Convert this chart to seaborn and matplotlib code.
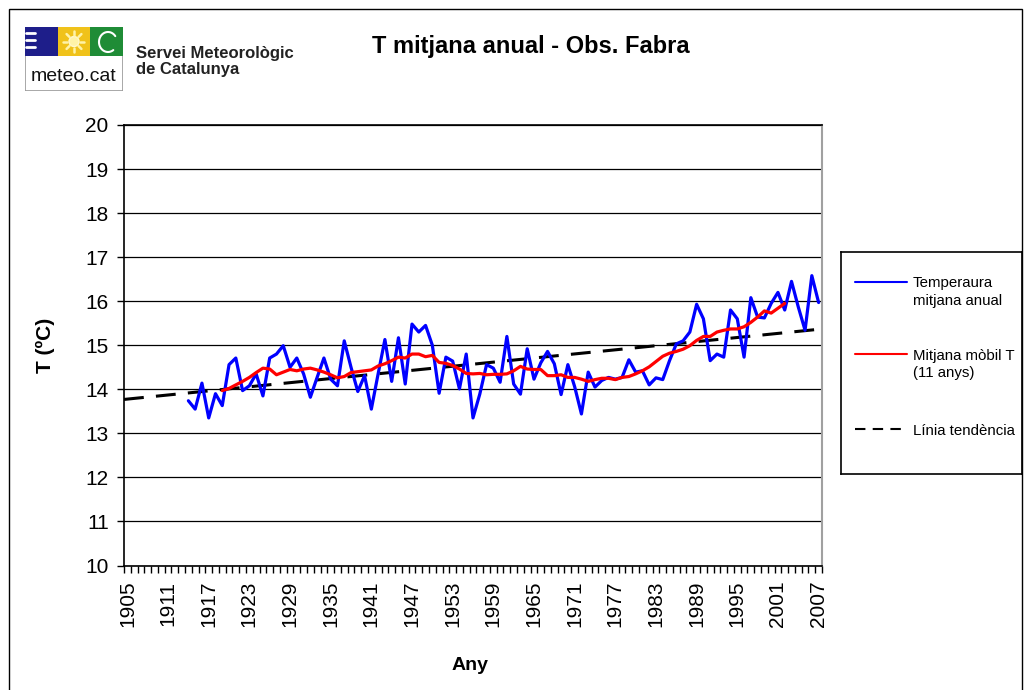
import numpy as np
import matplotlib
matplotlib.use("Agg")
import matplotlib.pyplot as plt
from matplotlib.patches import Rectangle, Circle
from matplotlib.lines import Line2D
import seaborn as sns

# dades (llegides del gràfic original)
years_obs = np.arange(1914, 2008)
temp_anual = [
    13.74, 13.55, 14.14, 13.35, 13.90, 13.63, 14.56, 14.71, 13.97, 14.08,
    14.35, 13.85, 14.71, 14.80, 14.99, 14.50, 14.71, 14.35, 13.82, 14.27,
    14.71, 14.23, 14.08, 15.10, 14.50, 13.95, 14.31, 13.55, 14.35, 15.13,
    14.18, 15.17, 14.12, 15.48, 15.30, 15.45, 15.00, 13.91, 14.73, 14.64,
    14.01, 14.80, 13.35, 13.89, 14.56, 14.48, 14.16, 15.20, 14.12, 13.89,
    14.92, 14.23, 14.60, 14.86, 14.58, 13.88, 14.56, 14.06, 13.44, 14.39,
    14.05, 14.20, 14.27, 14.23, 14.27, 14.67, 14.39, 14.42, 14.10, 14.26,
    14.22, 14.65, 15.03, 15.10, 15.30, 15.93, 15.60, 14.65, 14.80, 14.73,
    15.80, 15.60, 14.73, 16.08, 15.64, 15.62, 15.95, 16.20, 15.80, 16.45,
    15.87, 15.34, 16.58, 15.97,
]

years_mm = np.arange(1919, 2003)
mitjana_mobil = [
    13.97, 14.02, 14.10, 14.18, 14.27, 14.38, 14.48, 14.46, 14.33, 14.39,
    14.45, 14.42, 14.46, 14.48, 14.44, 14.39, 14.33, 14.26, 14.29, 14.38,
    14.40, 14.42, 14.44, 14.53, 14.58, 14.65, 14.73, 14.71, 14.80, 14.80,
    14.74, 14.77, 14.61, 14.59, 14.54, 14.46, 14.36, 14.35, 14.36, 14.33,
    14.34, 14.34, 14.35, 14.42, 14.52, 14.46, 14.45, 14.45, 14.31, 14.31,
    14.33, 14.27, 14.27, 14.23, 14.18, 14.22, 14.25, 14.25, 14.22, 14.27,
    14.29, 14.35, 14.42, 14.51, 14.63, 14.75, 14.82, 14.86, 14.91, 14.99,
    15.11, 15.20, 15.20, 15.30, 15.34, 15.37, 15.37, 15.42, 15.52, 15.64,
    15.78, 15.73, 15.84, 15.95,
]

years_trend = [1904.5, 2007.5]
tendencia = [13.77, 15.37]

xtick_years = np.arange(1905, 2008, 6)
yticks = np.arange(10, 21)

labels = ["Temperaura\nmitjana anual", "Mitjana mòbil T\n(11 anys)", "Línia tendència"]

W, H = 1025, 690


def rect(x0, y0, x1, y1):
    # pixels (origen a dalt a l'esquerra) -> fraccio de figura
    return [x0 / W, 1 - y1 / H, (x1 - x0) / W, (y1 - y0) / H]


sns.set_theme(style="white")
plt.rcParams['font.family'] = ['Liberation Sans', 'DejaVu Sans']
plt.rcParams['text.color'] = 'black'
plt.rcParams['xtick.color'] = 'black'
plt.rcParams['ytick.color'] = 'black'
plt.rcParams['axes.labelcolor'] = 'black'

fig = plt.figure(figsize=(W / 100, H / 100), dpi=100)
fig.patch.set_facecolor("white")

# marc exterior
fig.patches.append(Rectangle((8.5 / W, 1 - 700 / H), (1022 - 8.5) / W, (700 - 9) / H,
                             transform=fig.transFigure, fill=False, edgecolor="black", lw=1.0))

ax = fig.add_axes(rect(124, 125, 822, 565.5))
ax.set_facecolor("white")

sns.lineplot(x=years_trend, y=tendencia, ax=ax, color="black", lw=2.2)
ax.lines[-1].set_dashes((6.5, 4))
sns.lineplot(x=years_obs, y=temp_anual, ax=ax, color="#0000ff", lw=2.3)
sns.lineplot(x=years_mm, y=mitjana_mobil, ax=ax, color="#ff0000", lw=2.3)

ax.set_xlim(1904.5, 2007.5)
ax.set_ylim(10, 20)
ax.set_yticks(yticks)
ax.set_yticklabels([str(v) for v in yticks], fontsize=15)
ax.set_xticks(xtick_years)
ax.set_xticklabels([str(v) for v in xtick_years], rotation=90, fontsize=15)
ax.set_xticks(np.arange(1904.5, 2008, 1), minor=True)
ax.tick_params(axis="x", which="major", length=0, pad=11)
ax.tick_params(axis="x", which="minor", length=5, width=1, color="black", direction="out", bottom=True)
ax.tick_params(axis="y", length=5, width=1, color="black", direction="out", left=True, pad=6)
ax.yaxis.grid(True, color="black", lw=0.9)
ax.set_axisbelow(True)

for s in ["left", "bottom", "top"]:
    ax.spines[s].set_color("black")
    ax.spines[s].set_linewidth(1.2)
ax.spines["right"].set_color("#a0a0a0")
ax.spines["right"].set_linewidth(1.5)

ax.set_xlabel("")
ax.set_ylabel("")
fig.text(45 / W, 1 - 345 / H, "T (ºC)", rotation=90, fontsize=15, fontweight="bold",
         ha="center", va="center")
fig.text(470 / W, 1 - 666 / H, "Any", fontsize=14, fontweight="bold", ha="center", va="center")
fig.text(531 / W, 1 - 47 / H, "T mitjana anual - Obs. Fabra", fontsize=17, fontweight="bold",
         ha="center", va="center")

# llegenda dibuixada a mà
lax = fig.add_axes(rect(841, 252, 1022, 474))
lax.set_xlim(841, 1022)
lax.set_ylim(474, 252)
lax.set_xticks([])
lax.set_yticks([])
for s in lax.spines.values():
    s.set_color("black")
    s.set_linewidth(1.2)
leg_colors = ["#0000ff", "#ff0000", "black"]
leg_y = [281.7, 354, 429]
for c, y, lab in zip(leg_colors, leg_y, labels):
    ln = Line2D([855, 907], [y, y], color=c, lw=1.5)
    if c == "black":
        ln.set_dashes((5, 3.5))
    lax.add_line(ln)
    for k, part in enumerate(lab.split("\n")):
        lax.text(913, y + 5.5 + k * 17.5, part, fontsize=10.8, ha="left", va="baseline")

# logotip meteo.cat
gax = fig.add_axes(rect(25, 27, 123, 91))
gax.set_xlim(25, 123)
gax.set_ylim(91, 27)
gax.axis("off")
gax.add_patch(Rectangle((25, 27), 98, 64, facecolor="white", edgecolor="#9a9a9a", lw=1.2))
gax.add_patch(Rectangle((25, 27), 33, 29, facecolor="#1e1e8a", edgecolor="none"))
gax.add_patch(Rectangle((58, 27), 32, 29, facecolor="#f0c21a", edgecolor="none"))
gax.add_patch(Rectangle((90, 27), 33, 29, facecolor="#1f8c36", edgecolor="none"))
for yy in [33, 40, 47]:
    gax.plot([26, 35], [yy, yy], color="white", lw=2)
gax.add_patch(Circle((74, 41.5), 5, facecolor="#fff3a8", edgecolor="#fff8cc", lw=1))
for a in np.linspace(0, 2 * np.pi, 8, endpoint=False):
    gax.plot([74 + 6.5 * np.cos(a), 74 + 10.5 * np.cos(a)],
             [41.5 + 6.5 * np.sin(a), 41.5 + 10.5 * np.sin(a)], color="#fff3a8", lw=1.8)
cloud_t = np.linspace(0.3 * np.pi, 1.8 * np.pi, 60)
gax.plot(108 + 9 * np.cos(cloud_t), 42 + 10 * np.sin(cloud_t), color="white", lw=1.5)
gax.text(74, 81, "meteo.cat", fontsize=14, ha="center", va="baseline", color="#111111")

fig.text(136 / W, 1 - 58 / H, "Servei Meteorològic", fontsize=12, fontweight="bold",
         ha="left", va="baseline", color="#222222")
fig.text(136 / W, 1 - 74 / H, "de Catalunya", fontsize=12, fontweight="bold",
         ha="left", va="baseline", color="#222222")

fig.savefig("out.png", dpi=100)
